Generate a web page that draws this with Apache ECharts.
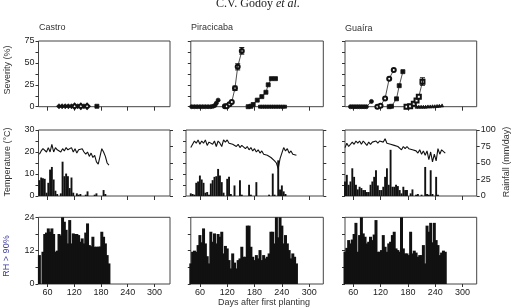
<!DOCTYPE html>
<html>
<head>
<meta charset="utf-8">
<script src="https://cdn.jsdelivr.net/npm/echarts@6/dist/echarts.min.js"></script>
<style>
html, body { margin: 0; padding: 0; background: #fff; }
#chart { width: 516px; height: 308px; }
</style>
</head>
<body>
<div id="chart"></div>
<script>
// tick values
var dayTicks = [60, 120, 180, 240, 300];
var siteNames = ['Castro', 'Piracicaba', 'Gua\u00edra'];

// weather series: one value every 4 days from the start day
var step = 4;
var castroStart = 42;
var castroTemp = [19, 20.5, 21.5, 21, 20, 22, 20, 23.5, 20, 22, 21, 21.5, 20, 21.5, 20.5, 22, 21, 20.5, 22, 20,
  21.5, 19.5, 21, 20.5, 21.5, 20, 19, 20, 18, 19.5, 17.5, 18.5, 15.5, 14.5, 18, 21.5, 20, 18, 15, 14];
var castroRain = [24, 28, 27, 26, 5, 20, 40, 44, 25, 8, 3, 0, 4, 52, 30, 34, 30, 12, 28, 5,
  0, 4, 2, 3, 0, 0, 2, 7, 0, 0, 0, 2, 4, 0, 0, 0, 9, 3, 0, 0];
var castroRH = [10.4, 0, 11.6, 18, 18.5, 20, 18.8, 20, 18, 11.6, 12, 18, 17.5, 24, 22.4, 19.5, 14.6, 23, 14.6, 18.2,
  18, 18, 17.6, 15.2, 16.4, 14.6, 18.5, 21.8, 14, 13.6, 17, 13.4, 13.4, 13.4, 13.5, 18.8, 17, 14.6, 10.4, 7.4];

var piraStart = 40;
var piraTemp = [22, 23.5, 25, 24, 25.5, 23.5, 25, 24, 25.5, 23, 24.5, 25, 23.5, 25, 22.5, 25, 24, 22.5, 25.5, 24.5,
  25.5, 24, 24.5, 23.5, 24, 22.5, 23.5, 22, 23, 22.5, 21.5, 22.5, 21, 22, 20.5, 21.5, 20, 21, 19.5, 20.5,
  19, 19.5, 18.5, 19, 17.5, 18, 16, 15, 12.5, 17, 19.5, 22, 20.5, 21.5, 19.5, 20.5, 19, 19.5, 18.5];
var piraRain = [4, 3, 2, 20, 22, 31, 25, 20, 5, 6, 2, 19, 24, 29, 30, 41, 31, 21, 5, 0,
  26, 29, 3, 0, 16, 0, 0, 24, 2, 0, 0, 0, 17, 2, 0, 0, 21, 0, 0, 0,
  0, 0, 0, 2, 0, 34, 2, 0, 54, 10, 16, 7, 3, 0, 0, 0, 0, 0, 0];
var piraRH = [7.4, 11.6, 12, 11.6, 14, 17.6, 15, 20, 14.6, 10, 7.4, 18.8, 15.2, 18.2, 14.6, 18, 17, 18.8, 11, 13.7,
  12.8, 8.6, 5.6, 11, 7.7, 5.6, 8.6, 9.2, 13.4, 9.8, 9.8, 21, 21, 13.4, 9.8, 8.6, 10.4, 9.2, 12.2, 8.6,
  10.4, 9.2, 9.8, 11, 18.8, 18.8, 14.6, 24, 16.8, 24, 21, 14.6, 17.6, 14.6, 12.2, 9.2, 11, 9.8, 7.4];

var guaStart = 42;
var guaTemp = [22, 24, 22.5, 23, 24.5, 23.5, 25, 24, 25, 23.5, 25, 24, 23, 24.5, 23.5, 24.5, 24, 25, 24, 25,
  25.5, 24.5, 26, 24, 24.5, 23.5, 24, 23, 23.5, 22.5, 23, 21, 22.5, 21.5, 22.5, 21.5, 22, 21, 21.5, 20.5,
  19.5, 21, 19, 20.5, 18.5, 20.5, 16.5, 20, 15.5, 19, 16, 21.5, 19, 21, 20.5, 19.5];
var guaRain = [22, 32, 17, 22, 42, 29, 17, 10, 14, 12, 9, 9, 6, 6, 17, 22, 29, 39, 16, 9,
  9, 14, 29, 42, 17, 70, 14, 14, 17, 15, 9, 4, 14, 9, 9, 0, 4, 10, 0, 2,
  3, 0, 2, 0, 44, 3, 2, 39, 3, 0, 29, 2, 0, 0, 0, 0];
var guaRH = [11.6, 13, 15.8, 14.6, 16, 18, 22, 11.6, 17.6, 24, 18.2, 17, 14.6, 15.2, 17, 15.8, 17.8, 23, 11.6, 11.6,
  12.2, 17.6, 13.4, 11.6, 14.6, 15.2, 17.6, 18.8, 12.8, 12.2, 11.6, 24, 12.8, 11, 11, 10.4, 18.8, 11, 12, 11.3,
  9.8, 10.4, 10.4, 14, 7.4, 21, 18.8, 22, 15, 22, 15.8, 14, 10.4, 11.3, 12, 11.6];

// disease severity (%) against days after first planting
var castroSevFilled = [[86, 0.5], [93, 0.5], [100, 0.5], [107, 0.5], [114, 0.5], [121, 0.5], [128, 0.5], [135, 0.5], [142, 0.5], [149, 0.5]];
var castroSevOpen = [[121, 0.5], [135, 0.5], [149, 0.5]];
var castroSevSquare = [[171, 0.5]];

var piraSevFilledCircle = [[42, 0], [48, 0], [54, 0], [60, 0], [66, 0], [72, 0], [78, 0], [84, 0], [89, 0.5], [93, 1.5], [96, 4], [100, 7.5]];
var piraSevOpenCircle = [[115, 0.5], [119, 0.5], [125, 2.7], [130, 5.5], [137, 21], [143, 45.5], [152, 63.5]];
var piraSevFilledSquare = [[166, 0], [172, 0.5], [177, 2.5], [186, 7.5], [196, 11.5], [205, 16.5], [210, 25], [217, 32], [226, 32]];
var piraSevFlat = [[192, 0], [197, 0], [202, 0], [207, 0], [212, 0], [217, 0], [222, 0], [227, 0], [232, 0], [237, 0], [242, 0], [247, 0]];
var piraErr = [[137, 18.5, 23.5], [143, 42, 49], [152, 60, 67.5]];

var guaSevFilledCircle = [[54, 0], [59, 0], [64, 0], [69, 0], [74, 0], [79, 0], [84, 0], [89, 0], [100, 6]];
var guaSevOpenCircle = [[113, 0], [120, 1], [130, 9.5], [139, 32], [149, 42]];
var guaSevFilledSquare = [[139, 0], [144, 0.5], [155, 9], [161, 24], [169, 40]];
var guaSevOpenSquare = [[177, 0], [185, 0.5], [193, 3.5], [199, 7], [204, 11.5], [212, 28.5]];
var guaSevTriangle = [[199, 0], [204, 0], [209, 0], [214, 0], [219, 0], [224, 0.3], [229, 0.3], [234, 0.5], [239, 0.5], [244, 0.8], [249, 1], [255, 1.5]];
var guaErr = [[212, 24.5, 33]];

function byDay(start, values) {
  return values.map(function (v, i) { return [start + i * step, v]; });
}

var chart = echarts.init(document.getElementById('chart'), null, { renderer: 'canvas' });

var FONT = 'Liberation Sans';
var INK = '#111';
var BOX = '#444';

// layout of the 3x3 panels (px)
var rowTop = [41, 130, 217.3];
var rowH = [65.7, 66, 66.7];
var colLeft = [38.5, 190.8, 345];
var colW = [131.5, 132.5, 131.7];
var colMin = [40, 40, 42];
var colMax = [335, 331, 331];
var tickOffset = [4, 2, 0];

var grids = [], xAxes = [], yAxes = [], series = [];

for (var r = 0; r < 3; r++) {
  for (var c = 0; c < 3; c++) {
    var left = colLeft[c], width = colW[c], xmin = colMin[c];
    if (r === 1 && c === 1) { left = 186; width = 137.3; xmin = 29.5; }
    grids.push({
      left: left, top: rowTop[r], width: width, height: rowH[r],
      show: true, borderColor: BOX, borderWidth: 1, backgroundColor: 'transparent',
      containLabel: false, outerBoundsMode: 'none'
    });
    xAxes.push({
      type: 'value', gridIndex: r * 3 + c, min: xmin, max: colMax[c],
      offset: tickOffset[r],
      axisLine: { show: false },
      axisTick: { show: true, customValues: dayTicks, length: r === 2 ? 3 : 4, lineStyle: { color: '#333' } },
      axisLabel: { show: r === 2, customValues: dayTicks, fontSize: 9, color: '#222', fontFamily: FONT, margin: 4 },
      splitLine: { show: false }
    });
  }
}

var yDefs = [
  { max: 75, interval: 12.5, major: 25 },
  { max: 30, interval: 5, major: 10 },
  { max: 24, interval: 6, major: 12 }
];
for (var r2 = 0; r2 < 3; r2++) {
  for (var c2 = 0; c2 < 3; c2++) {
    (function (def, showLab) {
      yAxes.push({
        type: 'value', gridIndex: r2 * 3 + c2, min: 0, max: def.max, interval: def.interval,
        axisLine: { show: false },
        axisTick: { show: true, length: 3, lineStyle: { color: '#333' } },
        axisLabel: {
          show: showLab, fontSize: 9, color: '#222', fontFamily: FONT, margin: 4,
          formatter: function (v) { return v % def.major === 0 ? String(v) : ''; }
        },
        splitLine: { show: false }
      });
    })(yDefs[r2], c2 === 0);
  }
}
// rainfall axes on the right of the weather panels
for (var c3 = 0; c3 < 3; c3++) {
  yAxes.push({
    type: 'value', gridIndex: 3 + c3, position: 'right', min: 0, max: 100, interval: 25,
    axisLine: { show: false },
    axisTick: { show: true, length: 3, lineStyle: { color: '#333' } },
    axisLabel: { show: c3 === 2, fontSize: 9, color: '#222', fontFamily: FONT, margin: 4 },
    splitLine: { show: false }
  });
}

function sev(g, data, symbol, size, withLine) {
  return {
    type: 'line', xAxisIndex: g, yAxisIndex: g, data: data,
    symbol: symbol, symbolSize: size, showSymbol: true,
    lineStyle: { color: '#222', width: withLine ? 0.8 : 0 },
    itemStyle: { color: INK, borderColor: INK, borderWidth: 0.8 },
    animation: false, z: 3
  };
}
function errorBars(g, data) {
  return {
    type: 'custom', xAxisIndex: g, yAxisIndex: g, data: data, z: 4, animation: false,
    renderItem: function (params, api) {
      var top = api.coord([api.value(0), api.value(2)]);
      var bot = api.coord([api.value(0), api.value(1)]);
      var w = 2.5, st = { stroke: INK, lineWidth: 1 };
      return {
        type: 'group', children: [
          { type: 'line', shape: { x1: top[0], y1: top[1], x2: bot[0], y2: bot[1] }, style: st },
          { type: 'line', shape: { x1: top[0] - w, y1: top[1], x2: top[0] + w, y2: top[1] }, style: st },
          { type: 'line', shape: { x1: bot[0] - w, y1: bot[1], x2: bot[0] + w, y2: bot[1] }, style: st }
        ]
      };
    }
  };
}
function tempLine(g, data) {
  return {
    type: 'line', xAxisIndex: g, yAxisIndex: g, data: data, symbol: 'none',
    lineStyle: { color: INK, width: 1.1 }, animation: false, z: 3
  };
}
function bars(g, yIdx, data, w) {
  return {
    type: 'bar', xAxisIndex: g, yAxisIndex: yIdx, data: data, barWidth: w,
    itemStyle: { color: INK }, animation: false, z: 2
  };
}

// row 1: severity
series.push(sev(0, castroSevFilled, 'diamond', 5, true));
series.push(sev(0, castroSevOpen, 'emptyDiamond', 5, false));
series.push(sev(0, castroSevSquare, 'rect', 4, false));

series.push(sev(1, piraSevFilledCircle, 'circle', 4, true));
series.push(sev(1, piraSevOpenCircle, 'emptyCircle', 4, true));
series.push(sev(1, piraSevFilledSquare, 'rect', 4, true));
series.push(sev(1, piraSevFlat, 'rect', 3, true));
series.push(errorBars(1, piraErr));

series.push(sev(2, guaSevFilledCircle, 'circle', 4, true));
series.push(sev(2, guaSevOpenCircle, 'emptyCircle', 4, true));
series.push(sev(2, guaSevFilledSquare, 'rect', 4, true));
series.push(sev(2, guaSevOpenSquare, 'emptyRect', 4, true));
series.push(sev(2, guaSevTriangle, 'triangle', 3, true));
series.push(errorBars(2, guaErr));

// row 2: temperature line + rainfall bars
series.push(bars(3, 9, byDay(castroStart, castroRain), 1.9));
series.push(tempLine(3, byDay(castroStart, castroTemp)));
series.push(bars(4, 10, byDay(piraStart, piraRain), 1.9));
series.push(tempLine(4, byDay(piraStart, piraTemp)));
series.push(bars(5, 11, byDay(guaStart, guaRain), 1.9));
series.push(tempLine(5, byDay(guaStart, guaTemp)));

// row 3: hours with RH > 90%
series.push(bars(6, 6, byDay(castroStart, castroRH), 3));
series.push(bars(7, 7, byDay(piraStart, piraRH), 3));
series.push(bars(8, 8, byDay(guaStart, guaRH), 3));

var txt = { fontFamily: FONT, fontSize: 9, fill: '#333' };
function label(x, y, s, extra) {
  var style = Object.assign({ text: s, x: 0, y: 0 }, txt, extra || {});
  return { type: 'text', x: x, y: y, style: style, silent: true };
}
function vlabel(x, y, s, rot, extra) {
  var style = Object.assign({ text: s, x: 0, y: 0, align: 'center', verticalAlign: 'middle' }, txt, extra || {});
  return { type: 'text', x: x, y: y, rotation: rot, style: style, silent: true };
}

var option = {
  animation: false,
  title: {
    text: '{a|C.V. Godoy }{b|et al.}', left: 'center', top: -7,
    textStyle: {
      fontWeight: 'normal',
      rich: {
        a: { fontFamily: 'Liberation Serif', fontSize: 12, color: '#222', fontWeight: 'normal' },
        b: { fontFamily: 'Liberation Serif', fontSize: 12, color: '#222', fontStyle: 'italic', fontWeight: 'normal' }
      }
    }
  },
  grid: grids,
  xAxis: xAxes,
  yAxis: yAxes,
  series: series,
  graphic: [
    label(39, 23, siteNames[0]),
    label(191, 23, siteNames[1]),
    label(345, 24, siteNames[2]),
    vlabel(8, 70, 'Severity (%)', Math.PI / 2),
    vlabel(8, 162, 'Temperature (\u00b0C)', Math.PI / 2),
    vlabel(7, 256, 'RH > 90%', Math.PI / 2, { fill: '#3b3b9b' }),
    vlabel(507, 162, 'Rainfall (mm/day)', Math.PI / 2),
    label(264, 303, 'Days after first planting', { align: 'center', verticalAlign: 'middle' })
  ]
};

chart.setOption(option);
</script>
</body>
</html>
